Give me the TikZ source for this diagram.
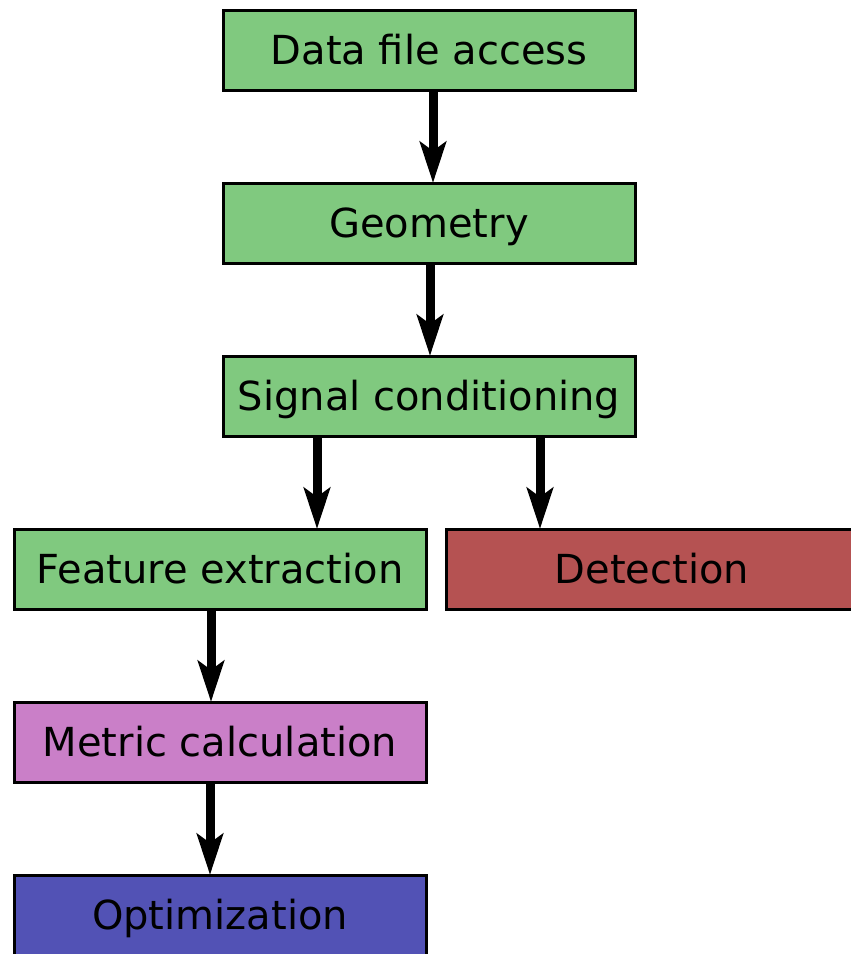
\documentclass[tikz,border=0pt]{standalone}
\usepackage{fontspec}
\setmainfont{DejaVu Sans}
\usepackage{tikz}
\usetikzlibrary{arrows.meta, positioning}
\usepackage{xcolor}

\definecolor{stagegreen}{HTML}{80C97F}
\definecolor{stagered}{HTML}{B55252}
\definecolor{stagepink}{HTML}{CA7FC8}
\definecolor{stageblue}{HTML}{5252B5}

\begin{document}
\begin{tikzpicture}[
        x=1pt, y=-1pt,
        node distance=93pt,
        box/.style={draw, line width=3pt, fill=stagegreen, minimum width=412pt, minimum height=80pt,
            inner sep=0pt, outer sep=0pt, text height=36pt, text depth=8pt, font=\fontsize{40}{48}\selectfont},
        arrow/.style={-{Stealth[length=41pt, width=26pt, inset=9pt]}, line width=9pt}
    ]
    \useasboundingbox (0,0) rectangle (851,954);
    \node[box] (data) at (429,50) {Data file access};
    \node[box, below=of data] (geom) {Geometry};
    \node[box, below=of geom] (sig) {Signal conditioning};
    \node[box, below=of sig, xshift=-209pt] (feat) {Feature extraction};
    \node[box, below=of sig, xshift=223pt, fill=stagered] (det) {Detection};
    \node[box, below=of feat, fill=stagepink] (metric) {Metric calculation};
    \node[box, below=of metric, fill=stageblue] (optim) {Optimization};
    \draw[arrow] ([xshift=4pt]data.south) -- ([xshift=4pt]geom.north);
    \draw[arrow] ([xshift=1pt]geom.south) -- ([xshift=1pt]sig.north);
    \draw[arrow] ([xshift=-112pt]sig.south) -- ([xshift=97pt]feat.north);
    \draw[arrow] ([xshift=111pt]sig.south) -- ([xshift=-112pt]det.north);
    \draw[arrow] ([xshift=-9pt]feat.south) -- ([xshift=-9pt]metric.north);
    \draw[arrow] ([xshift=-10pt]metric.south) -- ([xshift=-10pt]optim.north);
\end{tikzpicture}
\end{document}
